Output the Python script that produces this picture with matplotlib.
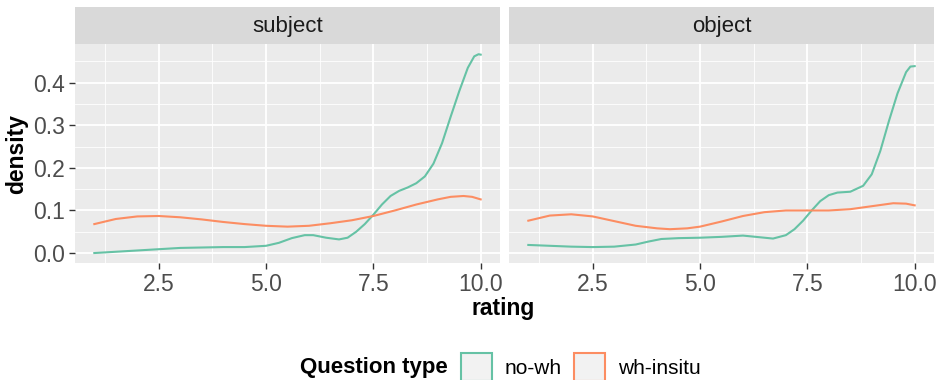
import matplotlib.pyplot as plt
from matplotlib.patches import Patch

plt.rcParams['font.family'] = ['Liberation Sans', 'DejaVu Sans']

# density curves, per facet and question type
subj_x_nowh = [1.0, 1.5, 2.0, 2.5, 3.0, 3.5, 4.0, 4.5, 5.0, 5.3, 5.6, 5.9, 6.1, 6.4, 6.7, 6.9, 7.1, 7.3, 7.5,
               7.7, 7.9, 8.1, 8.3, 8.5, 8.7, 8.9, 9.1, 9.3, 9.5, 9.7, 9.85, 9.95, 10.0]
subj_y_nowh = [0.000, 0.003, 0.006, 0.009, 0.012, 0.013, 0.014, 0.014, 0.017, 0.024, 0.035, 0.042, 0.042,
               0.036, 0.032, 0.036, 0.050, 0.068, 0.090, 0.114, 0.134, 0.146, 0.154, 0.164, 0.180, 0.210,
               0.258, 0.320, 0.380, 0.435, 0.462, 0.467, 0.466]
subj_x_whin = [1.0, 1.5, 2.0, 2.5, 3.0, 3.5, 4.0, 4.5, 5.0, 5.5, 6.0, 6.5, 7.0, 7.5, 8.0, 8.5, 9.0, 9.3,
               9.6, 9.8, 10.0]
subj_y_whin = [0.068, 0.080, 0.086, 0.087, 0.084, 0.079, 0.073, 0.068, 0.064, 0.062, 0.064, 0.070, 0.077,
               0.087, 0.100, 0.114, 0.126, 0.132, 0.134, 0.132, 0.126]

obj_x_nowh = [1.0, 1.5, 2.0, 2.5, 3.0, 3.5, 3.8, 4.1, 4.5, 5.0, 5.5, 6.0, 6.4, 6.7, 7.0, 7.2, 7.4, 7.6,
              7.8, 8.0, 8.2, 8.5, 8.8, 9.0, 9.2, 9.4, 9.6, 9.8, 9.9, 10.0]
obj_y_nowh = [0.019, 0.017, 0.015, 0.014, 0.015, 0.020, 0.027, 0.033, 0.035, 0.036, 0.038, 0.041, 0.037,
              0.034, 0.042, 0.056, 0.076, 0.100, 0.122, 0.136, 0.142, 0.144, 0.158, 0.185, 0.240, 0.310,
              0.375, 0.425, 0.438, 0.439]
obj_x_whin = [1.0, 1.5, 2.0, 2.5, 3.0, 3.5, 4.0, 4.3, 4.7, 5.0, 5.5, 6.0, 6.5, 7.0, 7.5, 8.0, 8.5, 9.0,
              9.5, 9.8, 10.0]
obj_y_whin = [0.076, 0.088, 0.091, 0.086, 0.075, 0.064, 0.058, 0.056, 0.058, 0.062, 0.074, 0.087, 0.096,
              0.100, 0.100, 0.100, 0.103, 0.110, 0.117, 0.116, 0.112]

panels = ['subject', 'object']
series = {
    'subject': [(subj_x_nowh, subj_y_nowh), (subj_x_whin, subj_y_whin)],
    'object': [(obj_x_nowh, obj_y_nowh), (obj_x_whin, obj_y_whin)],
}
labels = ['no-wh', 'wh-insitu']
colors = ['#66C2A5', '#FC8D62']

fig = plt.figure(figsize=(9.42, 3.80), dpi=100)

W, H = 942, 380
lefts = [75, 509]
pw = 425
top, bottom = 44, 263
strip_top = 7

for i, name in enumerate(panels):
    ax = fig.add_axes([lefts[i] / W, 1 - bottom / H, pw / W, (bottom - top) / H])
    ax.set_facecolor('#EBEBEB')
    for (xs, ys), c in zip(series[name], colors):
        ax.plot(xs, ys, color=c, lw=1.5, solid_joinstyle='round')
    ax.set_xlim(0.55, 10.45)
    ax.set_ylim(-0.0234, 0.491)
    ax.set_xticks([2.5, 5.0, 7.5, 10.0])
    ax.set_xticks([1.25, 3.75, 6.25, 8.75], minor=True)
    ax.set_yticks([0.0, 0.1, 0.2, 0.3, 0.4])
    ax.set_yticks([0.05, 0.15, 0.25, 0.35, 0.45], minor=True)
    ax.grid(which='major', color='white', lw=1.3)
    ax.grid(which='minor', color='white', lw=0.6)
    ax.set_axisbelow(True)
    for s in ax.spines.values():
        s.set_visible(False)
    ax.tick_params(which='major', length=4, color='#333333', labelsize=16.5, labelcolor='#4D4D4D', width=1,
                   pad=3)
    ax.tick_params(which='minor', length=0)
    ax.set_xticklabels(['2.5', '5.0', '7.5', '10.0'])
    if i == 0:
        ax.set_yticklabels(['0.0', '0.1', '0.2', '0.3', '0.4'])
        ax.set_ylabel('density', fontsize=16.5, fontweight='bold', labelpad=4)
    else:
        ax.tick_params(axis='y', which='both', length=0, labelleft=False)

    sx = fig.add_axes([lefts[i] / W, 1 - top / H, pw / W, (top - strip_top) / H])
    sx.set_facecolor('#D9D9D9')
    sx.set_xticks([])
    sx.set_yticks([])
    for s in sx.spines.values():
        s.set_visible(False)
    sx.text(0.5, 0.47, name, ha='center', va='center', fontsize=16, color='#1A1A1A', transform=sx.transAxes)

fig.text(503 / W, 1 - 308 / H, 'rating', ha='center', va='center', fontsize=16.5, fontweight='bold')

# legend, title placed to the left like ggplot's bottom legend
fig.text(300 / W, 1 - 367 / H, 'Question type', ha='left', va='center', fontsize=16, fontweight='bold')
handles = [Patch(facecolor='#F2F2F2', edgecolor=c, lw=1.5) for c in colors]
fig.legend(handles, labels, loc='center left', bbox_to_anchor=(446 / W, 1 - 367 / H), ncol=2,
           frameon=False, fontsize=15, handlelength=1.5, handleheight=1.75, handletextpad=0.6,
           columnspacing=0.6, borderpad=0.2)

fig.savefig('out.png', dpi=100)
